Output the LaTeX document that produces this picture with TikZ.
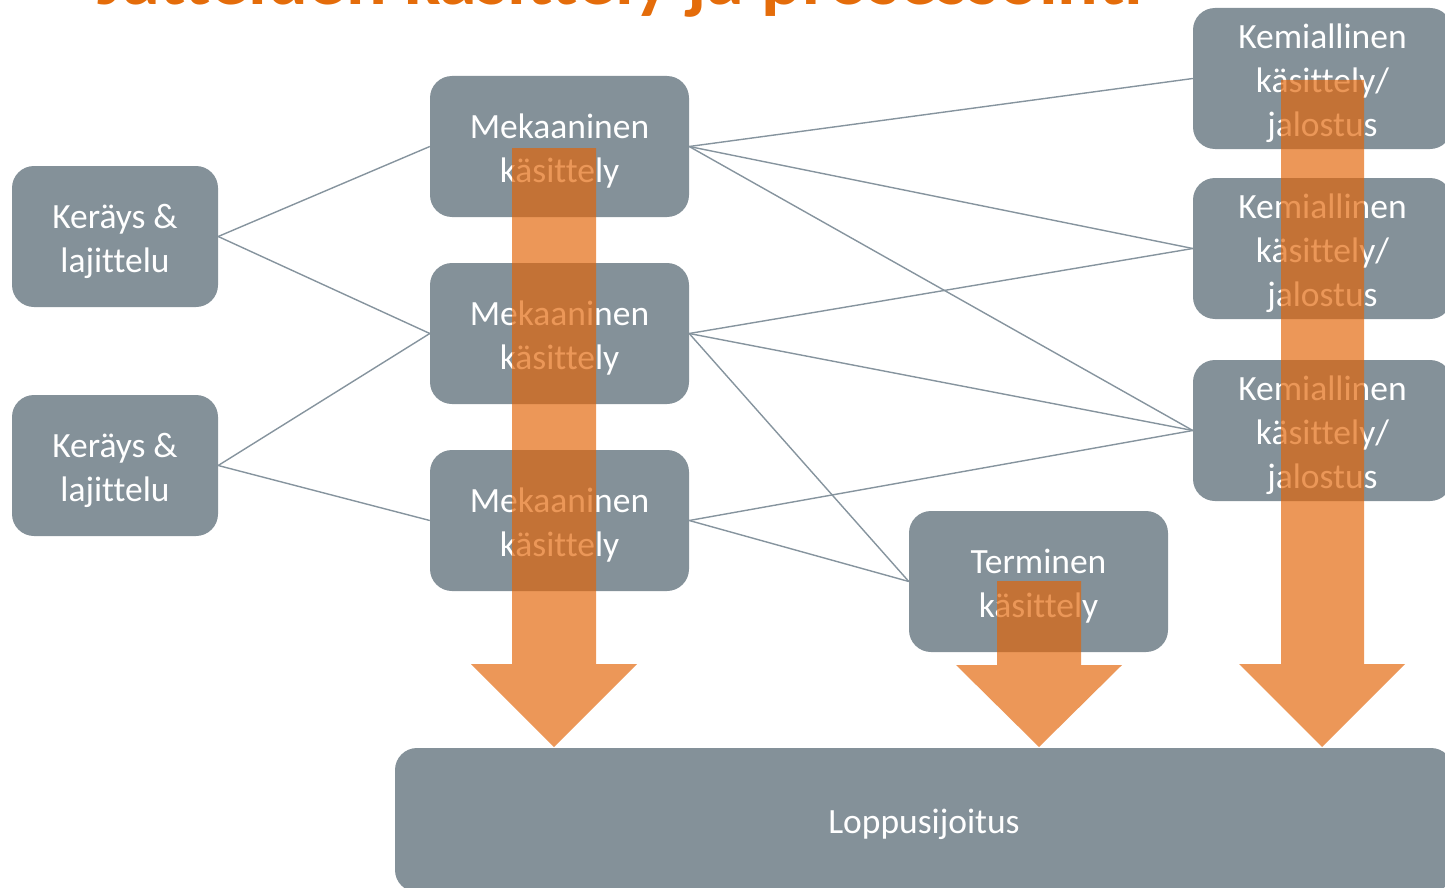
\documentclass[tikz,border=0pt]{standalone}
\usepackage{fontspec}
\setmainfont{Carlito}[Ligatures=NoCommon]
\definecolor{boxgray}{RGB}{132,145,153}
\definecolor{linegray}{RGB}{134,148,158}
\definecolor{orng}{RGB}{226,100,6}
\definecolor{titleorange}{RGB}{228,108,10}
\begin{document}
\begin{tikzpicture}[x=1pt,y=-1pt,
  box/.style={fill=boxgray, rounded corners=22pt,
    minimum width=259pt, minimum height=141pt, inner sep=0pt,
    label={[boxlabel]center:{#1}}},
  smallbox/.style={box=#1, minimum width=206pt},
  boxlabel/.style={text=white, font=\fontsize{35.5}{44}\selectfont,
    align=center, inner sep=0pt, yshift=-4.5pt},
  link/.style={draw=linegray, line width=1.4pt},
  bigarrow/.style={fill=orng, fill opacity=0.67}]
\useasboundingbox (0,0) rectangle (1445,888);
\clip (0,0) rectangle (1445,888);
\node[anchor=base, text=titleorange, inner sep=0pt,
  font=\fontsize{76}{80}\selectfont\bfseries] (title) at (620,5) {Jätteiden käsittely ja prosessointi};
\node[smallbox={Keräys \&\\lajittelu}] (k1) at (115,236.5) {};
\node[smallbox={Keräys \&\\lajittelu}] (k2) at (115,465.5) {};
\node[box={Mekaaninen\\käsittely}] (m1) at (559.5,146.5) {};
\node[box={Mekaaninen\\käsittely}] (m2) at (559.5,333.5) {};
\node[box={Mekaaninen\\käsittely}] (m3) at (559.5,520.5) {};
\node[box={Kemiallinen\\käsittely/\\jalostus}] (c1) at (1322.5,78.5) {};
\node[box={Kemiallinen\\käsittely/\\jalostus}] (c2) at (1322.5,248.5) {};
\node[box={Kemiallinen\\käsittely/\\jalostus}] (c3) at (1322.5,430.5) {};
\node[box={Terminen\\käsittely}] (t) at (1038.5,581.5) {};
\node[box={Loppusijoitus}, minimum width=1058pt, minimum height=144pt] (l) at (924,820) {};
% connectors
\draw[link] (k1.east) -- (m1.west);
\draw[link] (k1.east) -- (m2.west);
\draw[link] (k2.east) -- (m2.west);
\draw[link] (k2.east) -- (m3.west);
\draw[link] (m1.east) -- (c1.west);
\draw[link] (m1.east) -- (c2.west);
\draw[link] (m1.east) -- (c3.west);
\draw[link] (m2.east) -- (c2.west);
\draw[link] (m2.east) -- (c3.west);
\draw[link] (m2.east) -- (t.west);
\draw[link] (m3.east) -- (c3.west);
\draw[link] (m3.east) -- (t.west);
% big arrows
\fill[bigarrow] (512,148) -- (596,148) -- (596,664) -- (637,664) -- (554,747) -- (471,664) -- (512,664) -- cycle;
\fill[bigarrow] (997,581) -- (1081,581) -- (1081,665) -- (1122,665) -- (1039,747) -- (956,665) -- (997,665) -- cycle;
\fill[bigarrow] (1281,80) -- (1364,80) -- (1364,664) -- (1405,664) -- (1322,747) -- (1239,664) -- (1281,664) -- cycle;
\end{tikzpicture}
\end{document}
